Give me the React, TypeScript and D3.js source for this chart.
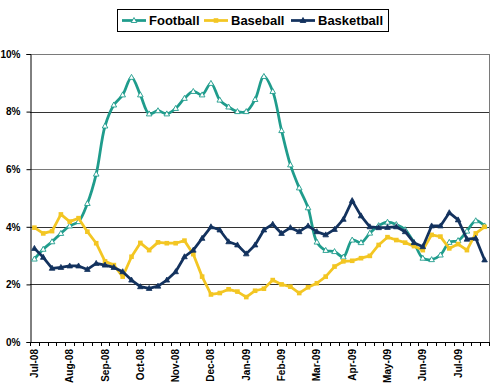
import { useEffect, useRef } from 'react';
import * as d3 from 'd3';

// weekly share values (%)
const football = [
  2.88, 3.22, 3.48, 3.77, 4.03, 4.18, 4.81, 5.83, 7.5, 8.23, 8.58, 9.19, 8.58,
  7.92, 8.03, 7.92, 8.11, 8.46, 8.7, 8.58, 8.98, 8.4, 8.16, 8.0, 8.0, 8.42,
  9.22, 8.7, 7.34, 6.15, 5.35, 4.66, 3.47, 3.18, 3.14, 2.95, 3.54, 3.45, 3.78,
  4.04, 4.16, 4.08, 3.9, 3.45, 2.91, 2.86, 3.02, 3.46, 3.52, 3.85, 4.21, 4.03,
];
const baseball = [
  3.97, 3.77, 3.85, 4.43, 4.18, 4.3, 3.83, 3.43, 2.8, 2.67, 2.27, 2.96, 3.44,
  3.19, 3.46, 3.43, 3.43, 3.52, 3.05, 2.27, 1.65, 1.7, 1.83, 1.75, 1.56, 1.78,
  1.85, 2.15, 2.0, 1.92, 1.7, 1.9, 2.04, 2.27, 2.62, 2.8, 2.82, 2.91, 2.99,
  3.37, 3.64, 3.54, 3.45, 3.33, 3.19, 3.72, 3.66, 3.25, 3.4, 3.19, 3.77, 4.0,
];
const basketball = [
  3.25, 2.94, 2.56, 2.59, 2.64, 2.64, 2.52, 2.73, 2.67, 2.59, 2.44, 2.15, 1.92,
  1.86, 1.94, 2.15, 2.44, 2.96, 3.19, 3.6, 4.0, 3.89, 3.48, 3.37, 3.06, 3.37,
  3.89, 4.09, 3.77, 3.97, 3.83, 4.03, 3.83, 3.72, 3.91, 4.26, 4.91, 4.38, 4.0,
  3.97, 3.98, 4.0, 3.83, 3.45, 3.31, 4.03, 4.03, 4.49, 4.24, 3.57, 3.6, 2.85,
];
const monthLabels = [
  'Jul-08', 'Aug-08', 'Sep-08', 'Oct-08', 'Nov-08', 'Dec-08', 'Jan-09',
  'Feb-09', 'Mar-09', 'Apr-09', 'May-09', 'Jun-09', 'Jul-09',
];
const labelEvery = 4;
const yTicks = [0, 2, 4, 6, 8, 10];

const seriesNames = ['Football', 'Baseball', 'Basketball'];
const seriesColors = ['#1f9c8c', '#f3c623', '#13325e'];

const App = () => {
  const svgRef = useRef<SVGSVGElement>(null);

  useEffect(() => {
    const svg = d3.select(svgRef.current);
    svg.selectAll('*').remove();

    const W = 494;
    const H = 391;
    const left = 30;
    const right = 489;
    const top = 54;
    const bottom = 342;
    const font = '"Liberation Sans", Arial, sans-serif';

    svg.attr('width', W).attr('height', H);
    svg.append('rect').attr('width', W).attr('height', H).attr('fill', '#fff');

    const idx = d3.range(football.length);
    const x = d3.scaleBand<number>().domain(idx).range([left, right]).padding(0);
    const cx = (i: number) => (x(i) as number) + x.bandwidth() / 2;
    const y = d3.scaleLinear().domain([0, 10]).range([bottom, top]);

    // gridlines
    yTicks.forEach((t) => {
      if (t === 0) return;
      svg
        .append('line')
        .attr('x1', left)
        .attr('x2', right)
        .attr('y1', Math.round(y(t)) + 0.5)
        .attr('y2', Math.round(y(t)) + 0.5)
        .attr('stroke', t === 6 || t === 10 ? '#7a7a7a' : '#333')
        .attr('stroke-width', 1);
    });
    // right border
    svg
      .append('line')
      .attr('x1', right + 0.5)
      .attr('x2', right + 0.5)
      .attr('y1', top)
      .attr('y2', bottom)
      .attr('stroke', '#7a7a7a');

    // y axis
    const yAxis = svg
      .append('g')
      .attr('transform', `translate(${left + 0.5},0)`)
      .call(
        d3
          .axisLeft(y)
          .tickValues(yTicks)
          .tickSize(4)
          .tickPadding(6)
          .tickFormat((d) => `${d}%`)
      );
    yAxis.select('.domain').attr('stroke', '#000');
    yAxis.selectAll('line').attr('stroke', '#000');
    yAxis
      .selectAll('text')
      .style('font-family', font)
      .style('font-size', '10px')
      .style('font-weight', 'bold')
      .attr('fill', '#000');

    // x axis baseline and category ticks
    svg
      .append('line')
      .attr('x1', left)
      .attr('x2', right)
      .attr('y1', bottom + 0.5)
      .attr('y2', bottom + 0.5)
      .attr('stroke', '#000');
    d3.range(football.length + 1).forEach((i) => {
      const tx = Math.round(left + i * x.bandwidth()) + 0.5;
      svg
        .append('line')
        .attr('x1', tx)
        .attr('x2', tx)
        .attr('y1', bottom)
        .attr('y2', bottom + 4)
        .attr('stroke', '#000');
    });
    monthLabels.forEach((lab, k) => {
      const px = cx(k * labelEvery) + 3.5;
      svg
        .append('text')
        .attr('transform', `translate(${px},${bottom + 7}) rotate(-90)`)
        .attr('text-anchor', 'end')
        .style('font-family', font)
        .style('font-size', '10px')
        .style('font-weight', 'bold')
        .text(lab);
    });

    // lines
    const allSeries = [football, baseball, basketball];
    allSeries.forEach((vals, s) => {
      const line = d3
        .line<number>()
        .x((_, i) => cx(i))
        .y((d) => y(d))
        .curve(s === 0 ? d3.curveCatmullRom.alpha(0.5) : d3.curveLinear);
      svg
        .append('path')
        .datum(vals)
        .attr('fill', 'none')
        .attr('stroke', seriesColors[s])
        .attr('stroke-width', 2.75)
        .attr('stroke-linejoin', 'round')
        .attr('d', line);

      const g = svg.append('g');
      vals.forEach((v, i) => {
        const px = cx(i);
        const py = y(v);
        if (s === 1) {
          g.append('rect')
            .attr('x', px - 2.3)
            .attr('y', py - 2.3)
            .attr('width', 4.6)
            .attr('height', 4.6)
            .attr('fill', seriesColors[s]);
        } else {
          g.append('path')
            .attr('d', `M${px},${py - 3}L${px + 2.8},${py + 2}L${px - 2.8},${py + 2}Z`)
            .attr('fill', s === 0 ? '#fff' : seriesColors[s])
            .attr('stroke', seriesColors[s])
            .attr('stroke-width', s === 0 ? 0.9 : 0.8);
        }
      });
    });

    // legend
    const lg = svg.append('g');
    lg.append('rect')
      .attr('x', 117.5)
      .attr('y', 9.5)
      .attr('width', 271)
      .attr('height', 22)
      .attr('fill', '#fff')
      .attr('stroke', '#000');
    const legendX = [122, 204, 291];
    seriesNames.forEach((name, s) => {
      const lx = legendX[s];
      lg.append('line')
        .attr('x1', lx)
        .attr('x2', lx + 24)
        .attr('y1', 20.5)
        .attr('y2', 20.5)
        .attr('stroke', seriesColors[s])
        .attr('stroke-width', 2.75);
      const mx = lx + 12;
      const my = 20.5;
      if (s === 1) {
        lg.append('rect')
          .attr('x', mx - 2.3)
          .attr('y', my - 2.3)
          .attr('width', 4.6)
          .attr('height', 4.6)
          .attr('fill', seriesColors[s]);
      } else {
        lg.append('path')
          .attr('d', `M${mx},${my - 3}L${mx + 2.8},${my + 2}L${mx - 2.8},${my + 2}Z`)
          .attr('fill', s === 0 ? '#fff' : seriesColors[s])
          .attr('stroke', seriesColors[s])
          .attr('stroke-width', 0.9);
      }
      lg.append('text')
        .attr('x', lx + 27)
        .attr('y', 25)
        .style('font-family', font)
        .style('font-size', '13px')
        .style('font-weight', 'bold')
        .text(name);
    });
  }, []);

  return (
    <svg
      ref={svgRef}
      style={{ position: 'absolute', left: 0, top: 0, display: 'block' }}
    ></svg>
  );
};

export default App;
